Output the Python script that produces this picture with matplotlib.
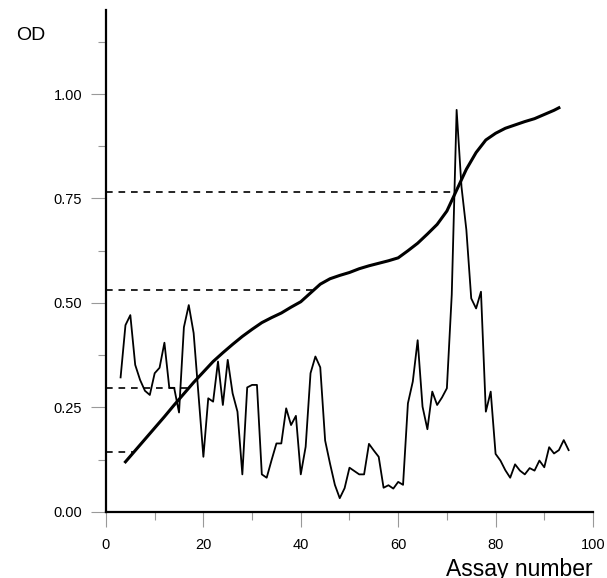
import numpy as np
import matplotlib
matplotlib.use("Agg")
import matplotlib.pyplot as plt
from matplotlib.ticker import MultipleLocator, FixedLocator

plt.rcParams['font.family'] = ['Liberation Sans', 'DejaVu Sans']

# noisy OD per assay
assay = list(range(3, 96))
od = [0.322, 0.447, 0.471, 0.352, 0.316, 0.29, 0.28, 0.332, 0.345, 0.405,
      0.297, 0.297, 0.238, 0.442, 0.495, 0.428, 0.28, 0.132, 0.272, 0.264,
      0.36, 0.256, 0.364, 0.284, 0.24, 0.09, 0.298, 0.304, 0.304, 0.09,
      0.082, 0.124, 0.164, 0.164, 0.248, 0.208, 0.23, 0.09, 0.156, 0.332,
      0.372, 0.346, 0.171, 0.116, 0.065, 0.033, 0.057, 0.106, 0.098, 0.09,
      0.09, 0.163, 0.147, 0.132, 0.058, 0.064, 0.056, 0.072, 0.065, 0.26,
      0.312, 0.411, 0.252, 0.198, 0.288, 0.256, 0.274, 0.296, 0.52, 0.962,
      0.778, 0.675, 0.511, 0.487, 0.527, 0.24, 0.288, 0.139, 0.123, 0.1,
      0.082, 0.114, 0.099, 0.09, 0.105, 0.099, 0.123, 0.107, 0.155, 0.14,
      0.148, 0.172, 0.148]

# cumulative (sorted) curve
cum_x = [4, 6, 8, 10, 12, 14, 16, 18, 20, 22, 24, 26, 28, 30, 32, 34, 36, 38,
         40, 42, 44, 46, 48, 50, 52, 54, 56, 58, 60, 62, 64, 66, 68, 70, 72,
         74, 76, 78, 80, 82, 84, 86, 88, 90, 92, 93]
cum_y = [0.12, 0.147, 0.174, 0.201, 0.228, 0.256, 0.283, 0.31, 0.335, 0.36,
         0.381, 0.401, 0.42, 0.437, 0.453, 0.465, 0.476, 0.49, 0.503, 0.524,
         0.545, 0.558, 0.566, 0.573, 0.582, 0.589, 0.595, 0.601, 0.608, 0.625,
         0.643, 0.665, 0.688, 0.72, 0.77, 0.82, 0.86, 0.89, 0.906, 0.918,
         0.926, 0.934, 0.941, 0.951, 0.961, 0.967]

# dashed reference levels and where they stop
ref_levels = [0.766, 0.531, 0.296, 0.143]
ref_ends = [72, 42.8, 17.5, 6]

fig = plt.figure(figsize=(6.07, 5.78), dpi=100)
ax = fig.add_axes([0.1746, 0.1142, 0.8023, 0.8678])

for lev, end in zip(ref_levels, ref_ends):
    ax.plot([0, end], [lev, lev], color='black', lw=1.2,
            dashes=(4, 3.5))

ax.plot(assay, od, color='black', lw=1.3)
ax.plot(cum_x, cum_y, color='black', lw=2.2)

ax.set_xlim(0, 100)
ax.set_ylim(0, 1.2)

ax.spines['top'].set_visible(False)
ax.spines['right'].set_visible(False)
for s in ['left', 'bottom']:
    ax.spines[s].set_linewidth(1.6)
    ax.spines[s].set_color('black')

ax.xaxis.set_major_locator(MultipleLocator(20))
ax.xaxis.set_minor_locator(MultipleLocator(10))
ax.yaxis.set_major_locator(FixedLocator([0, 0.25, 0.5, 0.75, 1.0]))
ax.yaxis.set_minor_locator(FixedLocator([0.125, 0.375, 0.625, 0.875, 1.125]))
ax.set_yticklabels(['0.00', '0.25', '0.50', '0.75', '1.00'])

ax.tick_params(which='major', length=11, width=0.8, color='#999999',
               labelsize=10.5, direction='out')
ax.tick_params(which='minor', length=5.5, width=0.8, color='#999999',
               direction='out')
ax.tick_params(axis='x', which='major', pad=8)
ax.tick_params(axis='y', which='major', pad=6)

fig.text(0.026, 0.931, 'OD', fontsize=14, ha='left', va='baseline')
fig.text(0.977, 0.004, 'Assay number', fontsize=16.5, ha='right', va='baseline')

fig.savefig('out.png', dpi=100)
